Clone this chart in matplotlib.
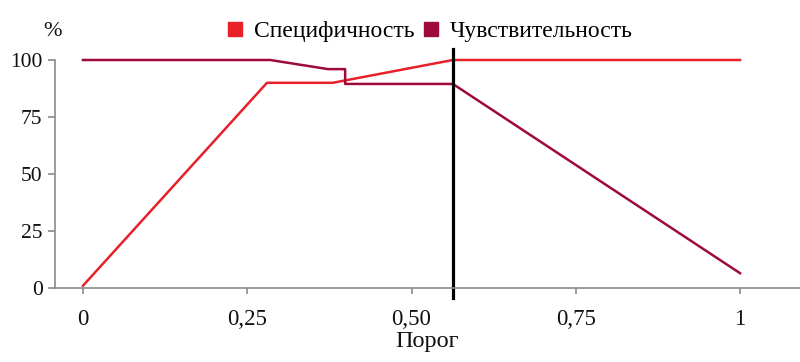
import matplotlib
matplotlib.use("Agg")
import matplotlib.pyplot as plt
from matplotlib.lines import Line2D

# Data
spec_x = [0.0, 0.28, 0.38, 0.563, 1.0]
spec_y = [1, 90, 90, 100, 100]

sens_x = [0.0, 0.285, 0.373, 0.399, 0.399, 0.563, 1.0]
sens_y = [100, 100, 96, 96, 89.5, 89.5, 6.5]

threshold = 0.563

x_ticks = [0, 0.25, 0.5, 0.75, 1]
x_labels = ["0", "0,25", "0,50", "0,75", "1"]
y_ticks = [0, 25, 50, 75, 100]

spec_color = "#e8202a"
sens_color = "#9e0b3b"
axis_color = "#8a8a8a"

plt.rcParams['font.family'] = ['Liberation Serif', 'DejaVu Serif']

fig = plt.figure(figsize=(8, 3.62), dpi=100)
ax = fig.add_axes([55 / 800, 1 - 288 / 362, 745 / 800, 228 / 362])

ax.plot(spec_x, spec_y, color=spec_color, lw=1.8, clip_on=False)
ax.plot(sens_x, sens_y, color=sens_color, lw=1.8, clip_on=False)
ax.axvline(threshold, ymin=-0.044, ymax=1.048, color="black", lw=2.3, clip_on=False)

ax.set_xlim(-0.0426, 1.0913)
ax.set_ylim(0, 100)

ax.set_xticks(x_ticks)
ax.set_xticklabels(x_labels)
ax.set_yticks(y_ticks)

for side in ["top", "right"]:
    ax.spines[side].set_visible(False)
for side in ["left", "bottom"]:
    ax.spines[side].set_color(axis_color)
    ax.spines[side].set_linewidth(1.2)

ax.tick_params(axis="x", length=4, width=1.2, color=axis_color, pad=11,
               labelsize=16.5, labelcolor="#111111")
ax.tick_params(axis="y", length=5, width=1.2, color=axis_color, pad=4,
               labelsize=15.5, labelcolor="#111111")

ax.set_xlabel("Порог", fontsize=17.5, color="#111111", labelpad=1)
fig.text(52 / 800, 1 - 31 / 362, "%", fontsize=16, ha="center", va="center",
         color="#111111")

handles = [
    Line2D([], [], marker="s", linestyle="none", markersize=9.5,
           color=spec_color, label="Специфичность"),
    Line2D([], [], marker="s", linestyle="none", markersize=9.5,
           color=sens_color, label="Чувствительность"),
]
fig.legend(handles=handles, loc="center", bbox_to_anchor=(428 / 800, 1 - 31 / 362),
           ncol=2, frameon=False, fontsize=17, handletextpad=0.3,
           columnspacing=0.2, handlelength=1.0, borderpad=0)

fig.savefig("out.png", dpi=100)
